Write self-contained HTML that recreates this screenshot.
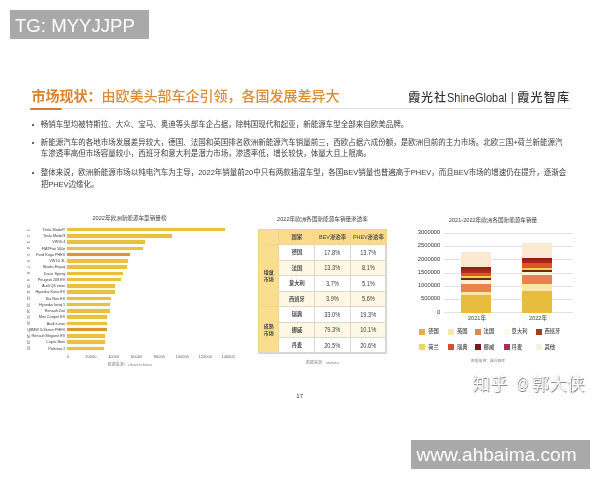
<!DOCTYPE html>
<html lang="zh-CN"><head><meta charset="utf-8"><title>市场现状</title>
<style>
*{margin:0;padding:0;box-sizing:border-box}
html,body{width:600px;height:480px;background:#fff;overflow:hidden}
body{font-family:"Liberation Sans","Noto Sans CJK SC",sans-serif;color:#333;position:relative}
.a{position:absolute;white-space:nowrap;line-height:1}
.badge{background:#a9a9a9;color:#fff}
.h{color:#de8c34;font-size:14px}
.p{font-size:7.5px;color:#404040}
.t{font-size:5.6px;color:#444}
.bar{position:absolute;height:3.5px;background:#e7bf42;left:67.1px;box-shadow:0 0 1.2px #edd060}
.bl{position:absolute;font-size:3.8px;color:#3c3c3c;right:534.6px;white-space:nowrap;line-height:1;text-align:right}
.rk{position:absolute;font-size:3.6px;color:#444;left:26.2px;width:4px;height:4px;line-height:4px;text-align:center;white-space:nowrap;transform:rotate(90deg)}
.ax{position:absolute;font-size:4px;color:#666;white-space:nowrap;line-height:1;transform:translateX(-50%)}
.src{font-size:3.6px;color:#888}
table{position:absolute;left:258px;top:228.9px;border-collapse:collapse;font-size:5.6px;color:#444;table-layout:fixed;width:127.4px}
td{border:0.6px solid #dcd8cc;text-align:center;vertical-align:middle;height:15.49px;padding:0;line-height:1.15;white-space:nowrap}
.hd td{border-color:#ecd49a}
td.fc{border-color:#ecd49a}
td i{display:inline-block;font-style:normal;font-size:6.5px;transform:scaleX(0.87);color:#404040}
.gl{position:absolute;left:444.2px;width:129.3px;height:0.7px;background:#e2e2e2}
.yl{position:absolute;font-size:5.8px;color:#383838;right:159.7px;white-space:nowrap;line-height:1;text-align:right}
.sg{position:absolute;width:29.5px}
.lg{position:absolute;width:6px;height:6px}
.lt{position:absolute;font-size:5.3px;font-weight:500;color:#444;white-space:nowrap;line-height:1}
</style></head>
<body>
<div class="a badge" style="left:10px;top:10px;width:139.3px;height:29.3px;font-size:18.6px;line-height:31.6px;padding-left:5px">TG: MYYJJPP</div>
<div class="a badge" style="left:411px;top:440.2px;width:179px;height:29.3px;font-size:19.1px;line-height:30.4px;padding-left:5.4px">www.ahbaima.com</div>
<div id="slide" style="position:absolute;left:0;top:0;width:600px;height:480px;filter:blur(0.4px)">
<div class="a h" style="left:31.5px;top:89.1px"><b style="font-weight:700;color:#d8822c">市场现状：</b><span style="font-weight:500">由欧美头部车企引领，各国发展差异大</span></div>
<div class="a" style="left:30px;top:108.2px;width:542px;height:1.1px;background:#e1e1e1"></div>
<div class="a" style="left:30.2px;top:107.6px;width:31.6px;height:2.2px;background:#da7a2c;border-radius:1.1px"></div>
<div class="a" style="left:408.3px;top:92.2px;font-size:12px;color:#333;letter-spacing:0.8px;font-weight:500">霞光社<span style="display:inline-block;font-size:12.4px;letter-spacing:0;font-weight:400;transform:scaleX(0.885);transform-origin:0 50%;margin-right:-7.2px;margin-left:0.2px">Sh<span style="color:#c0392b">i</span>neGlobal</span><span style="font-size:12px;color:#555;margin:0 3.2px 0 3.6px;position:relative;top:-1px;font-weight:400;letter-spacing:0">|</span><span style="letter-spacing:1.25px">霞光智库</span></div>
<div class="a" style="left:31.6px;top:124.0px;width:2.2px;height:2.2px;border-radius:50%;background:#333"></div>
<div class="a p" style="left:40.7px;top:121.0px">畅销车型均被特斯拉、大众、宝马、奥迪等头部车企占据，除韩国现代和起亚，新能源车型全部来自欧美品牌。</div>
<div class="a" style="left:31.6px;top:141.8px;width:2.2px;height:2.2px;border-radius:50%;background:#333"></div>
<div class="a p" style="left:40.7px;top:138.8px">新能源汽车的各地市场发展差异较大，德国、法国和英国排名欧洲新能源汽车销量前三，西欧占据六成份额，是欧洲目前的主力市场。北欧三国+荷兰新能源汽</div>
<div class="a p" style="left:40.7px;top:150.4px">车渗透率高但市场容量较小，西班牙和意大利是潜力市场，渗透率低，增长较快，体量大且上限高。</div>
<div class="a" style="left:31.6px;top:171.5px;width:2.2px;height:2.2px;border-radius:50%;background:#333"></div>
<div class="a p" style="left:40.7px;top:168.5px">整体来说，欧洲新能源市场以纯电汽车为主导，2022年销量前20中只有两款插混车型，各国BEV销量也普遍高于PHEV，而且BEV市场的增速仍在提升，逐渐会</div>
<div class="a p" style="left:40.7px;top:180.6px">把PHEV边缘化。</div>
<div class="a t" style="left:129.5px;top:215.9px;transform:translateX(-50%)">2022年欧洲新能源车型销量榜</div>
<div class="rk" style="top:227.6px">1</div><div class="bl" style="top:228.7px">Tesla ModelY</div><div class="bar" style="top:227.8px;width:158.3px;background:#e8c042"></div>
<div class="rk" style="top:233.9px">2</div><div class="bl" style="top:235.0px">Tesla Model3</div><div class="bar" style="top:234.1px;width:104.6px;background:#e8c042"></div>
<div class="rk" style="top:240.1px">3</div><div class="bl" style="top:241.2px">VWID.4</div><div class="bar" style="top:240.4px;width:78.2px;background:#e8c042"></div>
<div class="rk" style="top:246.4px">4</div><div class="bl" style="top:247.5px">FIATFiat 500e</div><div class="bar" style="top:246.6px;width:76.3px;background:#e8c042"></div>
<div class="rk" style="top:252.6px">5</div><div class="bl" style="top:253.7px">Ford Kuga PHEV</div><div class="bar" style="top:252.9px;width:63.2px;background:#dd9630"></div>
<div class="rk" style="top:258.9px">6</div><div class="bl" style="top:260.0px">VW ID.3L</div><div class="bar" style="top:259.1px;width:60.6px;background:#e8c042"></div>
<div class="rk" style="top:265.1px">7</div><div class="bl" style="top:266.2px">Skoda Enyaq</div><div class="bar" style="top:265.4px;width:60.1px;background:#e8c042"></div>
<div class="rk" style="top:271.4px">8</div><div class="bl" style="top:272.5px">Dacia Spring</div><div class="bar" style="top:271.6px;width:55.6px;background:#e8c042"></div>
<div class="rk" style="top:277.6px">9</div><div class="bl" style="top:278.7px">Peugeot 208 EV</div><div class="bar" style="top:277.9px;width:53.6px;background:#e8c042"></div>
<div class="rk" style="top:283.9px">10</div><div class="bl" style="top:285.0px">Audi Q4 etron</div><div class="bar" style="top:284.1px;width:48.3px;background:#e8c042"></div>
<div class="rk" style="top:290.1px">11</div><div class="bl" style="top:291.2px">Hyundai Kona EV</div><div class="bar" style="top:290.4px;width:47.9px;background:#e8c042"></div>
<div class="rk" style="top:296.4px">12</div><div class="bl" style="top:297.5px">Kia Niro EV</div><div class="bar" style="top:296.7px;width:44.1px;background:#e8c042"></div>
<div class="rk" style="top:302.7px">13</div><div class="bl" style="top:303.8px">Hyundai Ioniq 5</div><div class="bar" style="top:302.9px;width:43.3px;background:#e8c042"></div>
<div class="rk" style="top:308.9px">14</div><div class="bl" style="top:310.0px">Renault Zoe</div><div class="bar" style="top:309.2px;width:42.5px;background:#e8c042"></div>
<div class="rk" style="top:315.2px">15</div><div class="bl" style="top:316.3px">Mini Cooper EV</div><div class="bar" style="top:315.4px;width:40.2px;background:#e8c042"></div>
<div class="rk" style="top:321.4px">16</div><div class="bl" style="top:322.5px">Audi e-tron</div><div class="bar" style="top:321.7px;width:40.2px;background:#e8c042"></div>
<div class="rk" style="top:327.7px">17</div><div class="bl" style="top:328.8px">BMW 3-Series PHEV</div><div class="bar" style="top:327.9px;width:39.9px;background:#dd9630"></div>
<div class="rk" style="top:333.9px">18</div><div class="bl" style="top:335.0px">Renault Megane EV</div><div class="bar" style="top:334.2px;width:37.9px;background:#e8c042"></div>
<div class="rk" style="top:340.2px">19</div><div class="bl" style="top:341.3px">Cupra Born</div><div class="bar" style="top:340.4px;width:37.6px;background:#e8c042"></div>
<div class="rk" style="top:346.4px">20</div><div class="bl" style="top:347.5px">Polestar 2</div><div class="bar" style="top:346.7px;width:36.8px;background:#e8c042"></div>
<div class="ax" style="left:67.9px;top:354.5px">0</div><div class="ax" style="left:90.8px;top:354.5px">20000</div><div class="ax" style="left:113.7px;top:354.5px">40000</div><div class="ax" style="left:136.6px;top:354.5px">60000</div><div class="ax" style="left:159.4px;top:354.5px">80000</div><div class="ax" style="left:182.3px;top:354.5px">100000</div><div class="ax" style="left:205.2px;top:354.5px">120000</div><div class="ax" style="left:228.1px;top:354.5px">140000</div>
<div class="a src" style="left:107.8px;top:362.9px;font-size:4px">数据来源：cleantechnica</div>
<div class="a t" style="left:322.5px;top:217.1px;transform:translateX(-50%)">2022年欧洲各国新能源车销量渗透率</div>
<table><colgroup><col style="width:20.4px"><col style="width:36px"><col style="width:35.4px"><col style="width:36.2px"></colgroup>
<tr class="hd" style="background:#fadc88"><td style="background:#fade90"></td><td><b style="font-weight:700;font-size:5.3px">国家</b></td><td><b style="font-weight:500;font-size:5.4px">BEV渗透率</b></td><td><b style="font-weight:500;font-size:5.4px">PHEV渗透率</b></td></tr>
<tr style="background:#ffffff"><td class="fc" rowspan="4" style="background:#fade90"><b style="font-weight:700;font-size:5px;line-height:1.4;display:block">增量<br>市场</b></td><td><b style="font-weight:700;font-size:5.2px">德国</b></td><td><i>17.8%</i></td><td><i>13.7%</i></td></tr>
<tr style="background:#fdf7e4"><td><b style="font-weight:700;font-size:5.2px">法国</b></td><td><i>13.3%</i></td><td><i>8.1%</i></td></tr>
<tr style="background:#ffffff"><td><b style="font-weight:700;font-size:5.2px">意大利</b></td><td><i>3.7%</i></td><td><i>5.1%</i></td></tr>
<tr style="background:#fdf7e4"><td><b style="font-weight:700;font-size:5.2px">西班牙</b></td><td><i>3.9%</i></td><td><i>5.6%</i></td></tr>
<tr style="background:#ffffff"><td class="fc" rowspan="3" style="background:#fade90"><b style="font-weight:700;font-size:5px;line-height:1.4;display:block">成熟<br>市场</b></td><td><b style="font-weight:700;font-size:5.2px">瑞典</b></td><td><i>33.0%</i></td><td><i>19.3%</i></td></tr>
<tr style="background:#fdf7e4"><td><b style="font-weight:700;font-size:5.2px">挪威</b></td><td><i>79.3%</i></td><td><i>10.1%</i></td></tr>
<tr style="background:#ffffff"><td><b style="font-weight:700;font-size:5.2px">丹麦</b></td><td><i>20.5%</i></td><td><i>20.6%</i></td></tr>
</table>
<div class="a" style="left:257.7px;top:228.6px;width:128.4px;height:124.6px;border:0.6px solid #d6d6d6;border-top-color:#f0d48a;border-left-color:#f0d48a"></div>
<div class="a src" style="left:306px;top:360.6px;font-size:4px">数据来源：statista</div>
<div class="a t" style="left:493px;top:217.9px;transform:translateX(-50%)">2021-2022年欧洲各国新能源车销量</div>
<div class="gl" style="top:312.4px"></div><div class="yl" style="top:309.6px">0</div><div class="gl" style="top:299.2px"></div><div class="yl" style="top:296.4px">500000</div><div class="gl" style="top:285.9px"></div><div class="yl" style="top:283.1px">1000000</div><div class="gl" style="top:272.7px"></div><div class="yl" style="top:269.9px">1500000</div><div class="gl" style="top:259.4px"></div><div class="yl" style="top:256.6px">2000000</div><div class="gl" style="top:246.2px"></div><div class="yl" style="top:243.4px">2500000</div><div class="gl" style="top:233.0px"></div><div class="yl" style="top:230.1px">3000000</div>
<div class="sg" style="left:461.3px;top:252.2px;height:15.0px;background:#fbe9d2"></div><div class="sg" style="left:461.3px;top:267.0px;height:6.2px;background:linear-gradient(#8e1a14,#b8301e)"></div><div class="sg" style="left:461.3px;top:273.0px;height:3.5px;background:#d9552a"></div><div class="sg" style="left:461.3px;top:276.3px;height:2.2px;background:#f8cf52"></div><div class="sg" style="left:461.3px;top:278.3px;height:1.9px;background:#7a2410"></div><div class="sg" style="left:461.3px;top:280.0px;height:4.4px;background:#fdf1d6"></div><div class="sg" style="left:461.3px;top:284.2px;height:8.0px;background:#e9824e"></div><div class="sg" style="left:461.3px;top:292.0px;height:2.9px;background:#fbe6a6"></div><div class="sg" style="left:461.3px;top:294.7px;height:18.5px;background:#e8bd3e"></div>
<div class="sg" style="left:522.2px;top:243.4px;height:14.3px;background:#fbe9d2"></div><div class="sg" style="left:522.2px;top:257.5px;height:6.0px;background:linear-gradient(#8e1a14,#b8301e)"></div><div class="sg" style="left:522.2px;top:263.3px;height:4.4px;background:#d9552a"></div><div class="sg" style="left:522.2px;top:267.5px;height:2.7px;background:#f8cf52"></div><div class="sg" style="left:522.2px;top:270.0px;height:1.9px;background:#7a2410"></div><div class="sg" style="left:522.2px;top:271.7px;height:3.5px;background:#fdf1d6"></div><div class="sg" style="left:522.2px;top:275.0px;height:8.9px;background:#e9824e"></div><div class="sg" style="left:522.2px;top:283.7px;height:7.3px;background:#fbe6a6"></div><div class="sg" style="left:522.2px;top:290.8px;height:22.4px;background:#e8bd3e"></div>
<div class="a t" style="left:477px;top:316.4px;transform:translateX(-50%)">2021年</div><div class="a t" style="left:538px;top:316.4px;transform:translateX(-50%)">2022年</div>
<div class="lg" style="left:418.5px;top:328.6px;background:#dcb34a"></div><div class="lt" style="left:428.2px;top:329.2px">德国</div><div class="lg" style="left:448.3px;top:328.6px;background:#efe9ae"></div><div class="lt" style="left:456.9px;top:329.2px">英国</div><div class="lg" style="left:475.2px;top:328.6px;background:#e08850"></div><div class="lt" style="left:483.6px;top:329.2px">法国</div><div class="lg" style="left:504.4px;top:328.6px;background:#fcfaea"></div><div class="lt" style="left:511.6px;top:329.2px">意大利</div><div class="lg" style="left:536.1px;top:328.6px;background:#a83a2a"></div><div class="lt" style="left:544.5px;top:329.2px">西班牙</div>
<div class="lg" style="left:418.5px;top:344.2px;background:#ead95a"></div><div class="lt" style="left:428.2px;top:344.8px">荷兰</div><div class="lg" style="left:448.3px;top:344.2px;background:#d94c3a"></div><div class="lt" style="left:456.9px;top:344.8px">瑞典</div><div class="lg" style="left:475.2px;top:344.2px;background:#7a1a1a"></div><div class="lt" style="left:483.6px;top:344.8px">挪威</div><div class="lg" style="left:504.4px;top:344.2px;background:#b02a55"></div><div class="lt" style="left:511.6px;top:344.8px">丹麦</div><div class="lg" style="left:536.1px;top:344.2px;background:#f5f5de"></div><div class="lt" style="left:544.5px;top:344.8px">其他</div>
<div class="a src" style="left:471px;top:360.2px;font-size:3.8px">数据来源：霞光智库</div>
<div class="a" style="left:299.7px;top:393.3px;font-size:6px;color:#333;transform:translateX(-50%)">17</div>
</div>
<div class="a" style="left:472.4px;top:375.6px;font-size:17.6px;font-weight:400;color:#fff;text-shadow:0.8px 0.8px 0.7px #858585,-0.4px -0.4px 0.6px #c4c4c4">知乎<span style="display:inline-block;font-size:17px;transform:scaleX(0.74);transform-origin:0 50%;margin:0 -1.6px 0 8.4px;position:relative;top:-0.5px">@</span>郭大侠</div>
</body></html>
